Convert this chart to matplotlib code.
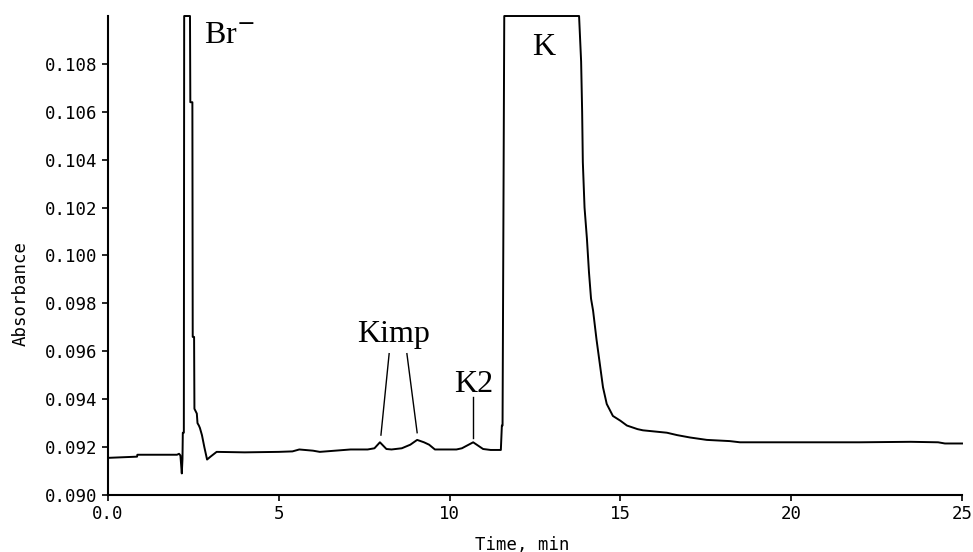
import numpy as np
import matplotlib.pyplot as plt

# chromatogram trace (time in min, absorbance)
time_min = [0.0, 0.85, 0.86, 2.02, 2.08, 2.12, 2.16, 2.18, 2.19, 2.22, 2.23,
            2.40, 2.41, 2.47, 2.48, 2.52, 2.53, 2.60, 2.62, 2.66, 2.69, 2.75,
            2.82, 2.90, 3.00, 3.18, 4.0, 5.0, 5.4, 5.6, 6.0, 6.2, 7.1, 7.6,
            7.8, 7.96, 8.15, 8.3, 8.6, 8.85, 9.05, 9.25, 9.4, 9.57, 10.2,
            10.36, 10.69, 10.98, 11.2, 11.5, 11.53, 11.55, 11.6,
            13.79, 13.85, 13.88, 13.90, 13.95, 14.02, 14.08, 14.14, 14.2,
            14.3, 14.49, 14.6, 14.78, 15.0, 15.19, 15.5, 15.66, 16.36, 16.66,
            17.04, 17.53, 18.2, 18.5, 19.67, 20.5, 22.0, 23.5, 24.3, 24.5, 25.0]
absorb = [0.09155, 0.09160, 0.09168, 0.09168, 0.09172, 0.09165, 0.0909,
          0.0915, 0.0926, 0.0926, 0.1100,
          0.1100, 0.1064, 0.1064, 0.0966, 0.0966, 0.0936, 0.0934, 0.0930,
          0.0929, 0.0928, 0.0925, 0.0920, 0.09148, 0.0916, 0.0918, 0.09178,
          0.09180, 0.09182, 0.09190, 0.09185, 0.09180, 0.09190, 0.09190,
          0.09195, 0.0922, 0.09192, 0.09190, 0.09195, 0.0921, 0.0923,
          0.0922, 0.0921, 0.09190, 0.09190, 0.09195, 0.0922, 0.09192,
          0.09188, 0.09188, 0.0929, 0.0929, 0.1100,
          0.1100, 0.1081, 0.1060, 0.1039, 0.1020, 0.1007, 0.0993, 0.0982,
          0.0977, 0.0965, 0.0945, 0.0938, 0.0933, 0.0931, 0.0929, 0.09275,
          0.0927, 0.0926, 0.0925, 0.0924, 0.0923, 0.09225, 0.0922, 0.0922,
          0.0922, 0.0922, 0.09222, 0.0922, 0.09215, 0.09215]

peak_labels = ['Br$^{-}$', 'Kimp', 'K2', 'K']
label_x = [3.55, 8.37, 10.71, 12.76]
label_y = [0.1092, 0.0967, 0.0946, 0.1087]

fig = plt.figure(figsize=(9.73, 5.52), dpi=100)
ax = fig.add_axes([0.111, 0.1033, 0.8777, 0.8677])

ax.plot(time_min, absorb, color='black', lw=1.4, clip_on=False)

ax.set_xlim(0, 25)
ax.set_ylim(0.090, 0.110)
ax.set_xticks([0, 5, 10, 15, 20, 25])
ax.set_xticklabels(['0.0', '5', '10', '15', '20', '25'])
yt = np.arange(0.090, 0.1085, 0.002)
ax.set_yticks(yt)
ax.set_yticklabels(['%.3f' % v for v in yt])

mono = 'DejaVu Sans Mono'
for lab in ax.get_xticklabels() + ax.get_yticklabels():
    lab.set_family(mono)
    lab.set_fontsize(12.5)
ax.tick_params(direction='out', length=4, width=1.2, colors='black')

ax.set_xlabel('Time, min', family=mono, fontsize=12.5)
ax.set_ylabel('Absorbance', family=mono, fontsize=12.5)
ax.xaxis.set_label_coords(0.485, -0.085)
ax.yaxis.set_label_coords(-0.092, 0.42)

for s in ['top', 'right']:
    ax.spines[s].set_visible(False)
for s in ['left', 'bottom']:
    ax.spines[s].set_linewidth(1.5)

for txt, x, y in zip(peak_labels, label_x, label_y):
    ax.text(x, y, txt, family='Liberation Serif', fontsize=23,
            ha='center', va='center')

# pointer lines for the impurity peaks
ax.plot([8.23, 7.99], [0.0959, 0.0925], color='black', lw=1.0)
ax.plot([8.75, 9.05], [0.0959, 0.0926], color='black', lw=1.0)
ax.plot([10.69, 10.69], [0.0941, 0.0924], color='black', lw=1.0)

fig.savefig('out.png', dpi=100)
